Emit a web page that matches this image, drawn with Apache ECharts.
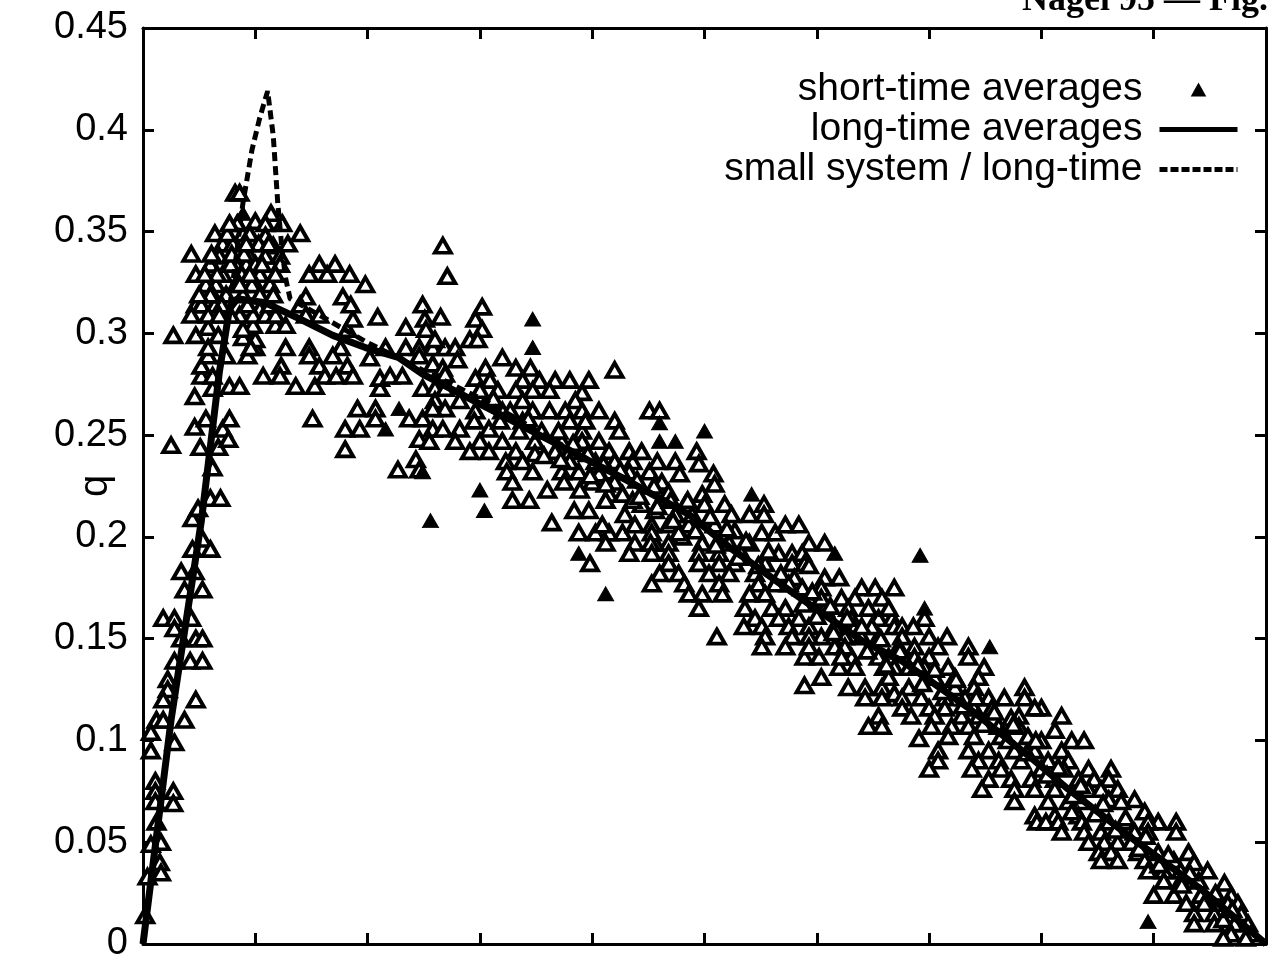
<!DOCTYPE html>
<html>
<head>
<meta charset="utf-8">
<script src="https://cdn.jsdelivr.net/npm/echarts@6/dist/echarts.min.js"></script>
<style>
html,body{margin:0;padding:0;background:#fff}
#chart{width:1268px;height:963px}
</style>
</head>
<body>
<div id="chart"></div>
<script>
// ---- axis ranges / ticks ----
const xRange = [0, 1];
const xStep = 0.1;
const yRange = [0, 0.45];
const yStep = 0.05;
const yAxisName = 'q';
const seriesNames = ['short-time averages', 'long-time averages', 'small system / long-time'];

// ---- short-time averages (density, flow) ----
const stFreeFlow = [
[0.053,0.199],[0.060,0.194],[0.044,0.194],[0.034,0.183],[0.046,0.183],[0.037,0.174],[0.053,0.174],[0.018,0.160],[0.028,0.160],[0.043,0.160],
[0.028,0.155],[0.034,0.150],[0.047,0.150],[0.053,0.150],[0.028,0.139],[0.042,0.139],[0.053,0.139],[0.022,0.130],[0.022,0.125],[0.018,0.120],
[0.047,0.120],[0.012,0.110],[0.018,0.110],[0.037,0.110],[0.007,0.104],[0.028,0.099],[0.007,0.095],[0.011,0.080],[0.011,0.075],[0.027,0.075],
[0.011,0.070],[0.027,0.069],[0.012,0.060],[0.016,0.050],[0.007,0.049],[0.015,0.040],[0.016,0.035],[0.004,0.033],[0.002,0.014],
[0.044,0.209],[0.049,0.214],[0.060,0.219],[0.069,0.219],[0.062,0.234],[0.025,0.245],[0.051,0.244],[0.067,0.244],[0.046,0.254],[0.071,0.253],
[0.076,0.248],[0.056,0.258],[0.077,0.258],[0.046,0.269],[0.062,0.273],[0.077,0.274],[0.086,0.274],[0.052,0.279],[0.062,0.279],[0.052,0.284],
[0.074,0.289],[0.058,0.289],[0.093,0.289],[0.058,0.293],[0.100,0.293],[0.027,0.299],[0.047,0.299],[0.058,0.303],[0.067,0.299],[0.089,0.298],
[0.100,0.297],[0.064,0.314],[0.047,0.314],[0.093,0.312],[0.104,0.312],[0.118,0.304],[0.127,0.304],[0.098,0.304],[0.089,0.302],[0.096,0.293]
];
const stPeak = [
[0.082,0.369],[0.086,0.369],[0.114,0.359],[0.100,0.355],[0.109,0.354],[0.124,0.354],[0.064,0.349],[0.089,0.349],[0.140,0.349],[0.129,0.344],
[0.043,0.339],[0.071,0.344],[0.080,0.344],[0.109,0.348],[0.116,0.343],[0.047,0.329],[0.060,0.334],[0.068,0.338],[0.095,0.338],[0.109,0.338],
[0.122,0.338],[0.122,0.334],[0.056,0.324],[0.071,0.329],[0.083,0.334],[0.092,0.334],[0.104,0.329],[0.113,0.324],[0.065,0.324],[0.052,0.314],
[0.062,0.319],[0.074,0.319],[0.089,0.319],[0.100,0.324],[0.043,0.309],[0.058,0.309],[0.086,0.309],[0.098,0.309],[0.109,0.309],[0.118,0.309],
[0.075,0.349],[0.095,0.349],[0.103,0.344],[0.090,0.339],[0.078,0.334],[0.066,0.329],[0.088,0.329],[0.097,0.324],[0.083,0.324],[0.070,0.314],
[0.078,0.309],[0.104,0.319],[0.113,0.314],[0.093,0.314],[0.060,0.319],[0.055,0.329],[0.118,0.329],[0.100,0.334],[0.112,0.344],[0.084,0.354],
[0.050,0.319],[0.068,0.309],[0.079,0.339],[0.106,0.334],[0.116,0.319],[0.061,0.339],[0.092,0.344],[0.077,0.354],[0.095,0.329],[0.086,0.324]
];
const stJamA = [
[0.123,0.284],[0.107,0.279],[0.122,0.279],[0.136,0.274],[0.153,0.274],[0.151,0.258],[0.127,0.293],[0.148,0.293],[0.148,0.289],[0.176,0.293],
[0.169,0.289],[0.157,0.284],[0.162,0.279],[0.172,0.279],[0.182,0.284],[0.187,0.279],[0.182,0.302],[0.187,0.307],[0.178,0.318],[0.185,0.314],
[0.209,0.308],[0.234,0.303],[0.198,0.324],[0.184,0.329],[0.164,0.329],[0.148,0.329],[0.157,0.334],[0.171,0.334],[0.145,0.318],[0.140,0.314],
[0.145,0.309],[0.157,0.309],[0.191,0.263],[0.207,0.263],[0.207,0.258],[0.180,0.253],[0.193,0.253],[0.180,0.243],[0.227,0.233],[0.243,0.238],
[0.246,0.233],[0.211,0.273],[0.211,0.278],[0.220,0.279],[0.231,0.279],[0.237,0.258],[0.249,0.258],[0.258,0.253],[0.246,0.248],[0.267,0.253],
[0.249,0.273],[0.260,0.273],[0.269,0.273],[0.260,0.267],[0.269,0.263],[0.258,0.263],[0.216,0.293],[0.234,0.293],[0.246,0.293],[0.258,0.293],
[0.269,0.293],[0.249,0.314],[0.251,0.307],[0.265,0.308],[0.252,0.302],[0.260,0.297],[0.246,0.289],[0.258,0.285],[0.267,0.283],[0.269,0.280],
[0.267,0.343],[0.271,0.328],[0.202,0.288]
];
const stJamB = [
[0.302,0.313],[0.296,0.307],[0.302,0.302],[0.291,0.297],[0.298,0.297],[0.278,0.293],[0.280,0.287],[0.320,0.288],[0.305,0.283],[0.332,0.283],
[0.345,0.283],[0.420,0.282],[0.296,0.278],[0.309,0.277],[0.338,0.277],[0.353,0.277],[0.367,0.277],[0.380,0.277],[0.397,0.277],[0.300,0.272],
[0.316,0.272],[0.332,0.272],[0.347,0.272],[0.362,0.272],[0.391,0.271],[0.385,0.267],[0.282,0.267],[0.338,0.267],[0.347,0.262],[0.362,0.262],
[0.376,0.262],[0.391,0.262],[0.406,0.262],[0.451,0.262],[0.460,0.262],[0.420,0.257],[0.296,0.262],[0.320,0.262],[0.282,0.253],[0.295,0.257],
[0.308,0.253],[0.338,0.257],[0.255,0.247],[0.278,0.247],[0.300,0.247],[0.320,0.247],[0.349,0.247],[0.373,0.247],[0.391,0.252],[0.406,0.247],
[0.424,0.252],[0.291,0.242],[0.308,0.242],[0.332,0.242],[0.349,0.241],[0.367,0.242],[0.380,0.242],[0.415,0.242],[0.433,0.242],[0.323,0.237],
[0.338,0.237],[0.420,0.237],[0.436,0.237],[0.324,0.232],[0.347,0.232],[0.373,0.232],[0.388,0.232],[0.415,0.232],[0.433,0.232],[0.451,0.232],
[0.329,0.227],[0.375,0.227],[0.400,0.227],[0.420,0.227],[0.462,0.227],[0.468,0.222],[0.329,0.218],[0.344,0.218],[0.360,0.223],[0.389,0.223],
[0.415,0.221],[0.427,0.221],[0.364,0.207],[0.384,0.213],[0.397,0.213],[0.429,0.211],[0.444,0.216],[0.456,0.213],[0.483,0.216],[0.498,0.221],
[0.518,0.216],[0.524,0.211],[0.388,0.202],[0.403,0.202],[0.415,0.202],[0.427,0.202],[0.438,0.206],[0.453,0.206],[0.468,0.206],[0.486,0.206],
[0.509,0.206],[0.438,0.197],[0.456,0.197],[0.480,0.200],[0.527,0.203],[0.458,0.237],[0.474,0.237],[0.478,0.231],[0.508,0.231],[0.509,0.226],
[0.493,0.242],[0.495,0.236],[0.412,0.197]
];
const stJamC = [
[0.380,0.257],[0.394,0.257],[0.391,0.247],[0.444,0.242],[0.380,0.237],[0.403,0.237],[0.406,0.231],[0.412,0.218],[0.436,0.218],[0.500,0.216],
[0.553,0.216],[0.409,0.206],[0.474,0.211],[0.489,0.211],[0.540,0.211],[0.553,0.211],[0.453,0.202],[0.477,0.202],[0.551,0.202],[0.563,0.202],
[0.572,0.206],[0.584,0.206],[0.452,0.197],[0.468,0.197],[0.498,0.197],[0.522,0.197],[0.540,0.197],[0.593,0.197],[0.607,0.197],[0.398,0.187],
[0.433,0.192],[0.453,0.192],[0.468,0.192],[0.495,0.192],[0.513,0.192],[0.533,0.192],[0.566,0.192],[0.578,0.192],[0.587,0.192],[0.468,0.187],
[0.495,0.187],[0.513,0.187],[0.527,0.187],[0.554,0.187],[0.578,0.187],[0.589,0.187],[0.460,0.182],[0.477,0.182],[0.504,0.182],[0.522,0.182],
[0.545,0.182],[0.566,0.180],[0.580,0.180],[0.607,0.180],[0.620,0.180],[0.453,0.177],[0.482,0.177],[0.513,0.177],[0.548,0.177],[0.563,0.177],
[0.587,0.175],[0.604,0.175],[0.640,0.175],[0.652,0.175],[0.669,0.175],[0.486,0.172],[0.498,0.172],[0.516,0.172],[0.540,0.172],[0.554,0.172],
[0.593,0.170],[0.622,0.170],[0.634,0.170],[0.658,0.170],[0.495,0.165],[0.536,0.165],[0.560,0.165],[0.572,0.165],[0.607,0.165],[0.628,0.165],
[0.646,0.165],[0.545,0.160],[0.566,0.160],[0.584,0.160],[0.631,0.160],[0.655,0.160],[0.667,0.160],[0.535,0.156],[0.551,0.156],[0.575,0.156],
[0.593,0.156],[0.634,0.156],[0.669,0.156],[0.511,0.151],[0.554,0.151],[0.578,0.151],[0.604,0.151],[0.625,0.151],[0.655,0.151],[0.551,0.146],
[0.572,0.146],[0.616,0.146],[0.589,0.141],[0.602,0.141],[0.631,0.141],[0.664,0.141],[0.620,0.136],[0.634,0.136],[0.669,0.136],[0.589,0.127],
[0.604,0.131],[0.628,0.126],[0.643,0.126],[0.658,0.126],[0.669,0.123]
];
const stJamD = [
[0.593,0.186],[0.604,0.170],[0.696,0.160],[0.664,0.165],[0.616,0.156],[0.649,0.156],[0.676,0.156],[0.686,0.156],[0.593,0.151],[0.640,0.151],
[0.676,0.151],[0.700,0.151],[0.716,0.151],[0.735,0.146],[0.735,0.141],[0.593,0.146],[0.625,0.146],[0.673,0.146],[0.687,0.146],[0.708,0.146],
[0.622,0.141],[0.655,0.141],[0.687,0.141],[0.700,0.141],[0.660,0.136],[0.682,0.136],[0.696,0.136],[0.717,0.136],[0.749,0.136],[0.664,0.131],
[0.705,0.131],[0.723,0.131],[0.744,0.131],[0.682,0.126],[0.723,0.126],[0.740,0.126],[0.785,0.126],[0.643,0.121],[0.658,0.121],[0.676,0.121],
[0.693,0.121],[0.714,0.121],[0.732,0.121],[0.753,0.121],[0.767,0.121],[0.785,0.121],[0.676,0.116],[0.700,0.116],[0.714,0.116],[0.740,0.116],
[0.756,0.116],[0.800,0.116],[0.655,0.112],[0.684,0.112],[0.705,0.112],[0.729,0.112],[0.744,0.112],[0.780,0.112],[0.818,0.112],[0.646,0.107],
[0.658,0.107],[0.702,0.107],[0.720,0.107],[0.735,0.107],[0.762,0.107],[0.780,0.107],[0.812,0.105],[0.691,0.101],[0.717,0.102],[0.740,0.102],
[0.764,0.102],[0.788,0.102],[0.800,0.100],[0.827,0.100],[0.838,0.100],[0.708,0.095],[0.735,0.095],[0.753,0.095],[0.776,0.095],[0.794,0.095],
[0.818,0.095],[0.708,0.090],[0.744,0.090],[0.762,0.090],[0.782,0.090],[0.806,0.090],[0.824,0.090],[0.700,0.086],[0.738,0.086],[0.764,0.086],
[0.800,0.086],[0.820,0.086],[0.842,0.086],[0.847,0.081],[0.753,0.081],[0.773,0.081],[0.791,0.081],[0.812,0.081],[0.833,0.081],[0.747,0.076],
[0.776,0.076],[0.794,0.076],[0.812,0.076],[0.842,0.076],[0.776,0.070],[0.806,0.070],[0.824,0.070],[0.836,0.070],[0.794,0.063],[0.812,0.063],
[0.833,0.063],[0.794,0.116],[0.773,0.111]
];
const stJamE = [
[0.862,0.086],[0.860,0.081],[0.868,0.076],[0.883,0.071],[0.853,0.076],[0.860,0.071],[0.871,0.070],[0.892,0.065],[0.904,0.060],[0.920,0.060],
[0.920,0.055],[0.796,0.060],[0.804,0.060],[0.815,0.060],[0.827,0.065],[0.836,0.060],[0.818,0.055],[0.838,0.055],[0.853,0.055],[0.860,0.060],
[0.874,0.060],[0.883,0.055],[0.895,0.060],[0.895,0.055],[0.842,0.050],[0.856,0.050],[0.868,0.050],[0.880,0.050],[0.851,0.045],[0.862,0.045],
[0.886,0.045],[0.904,0.045],[0.853,0.041],[0.868,0.041],[0.892,0.041],[0.918,0.041],[0.931,0.045],[0.936,0.040],[0.895,0.036],[0.909,0.036],
[0.924,0.036],[0.948,0.036],[0.909,0.031],[0.924,0.031],[0.940,0.031],[0.963,0.030],[0.900,0.024],[0.918,0.024],[0.942,0.024],[0.969,0.024],
[0.929,0.020],[0.948,0.020],[0.966,0.020],[0.975,0.020],[0.936,0.015],[0.954,0.015],[0.978,0.015],[0.936,0.010],[0.954,0.010],[0.972,0.010],
[0.984,0.010],[0.969,0.005],[0.987,0.005],[0.962,0.003],[0.982,0.003]
];
// marks packed tightly on both sides of the long-time curve
const stBand = [
[0.312,0.268],[0.318,0.257],[0.327,0.262],[0.335,0.252],[0.343,0.258],[0.355,0.252],[0.357,0.240],[0.370,0.252],[0.372,0.238],[0.383,0.246],
[0.396,0.241],[0.398,0.230],[0.410,0.236],[0.412,0.226],[0.425,0.233],[0.440,0.228],[0.442,0.220],[0.455,0.225],[0.458,0.215],[0.470,0.218],
[0.472,0.208],[0.485,0.218],[0.492,0.203],[0.505,0.210],[0.510,0.196],[0.520,0.204],[0.530,0.190],[0.537,0.198],[0.548,0.186],[0.557,0.193],
[0.568,0.182],[0.575,0.177],[0.588,0.167],[0.596,0.173],[0.600,0.161],[0.612,0.166],[0.615,0.153],[0.627,0.160],[0.640,0.156],[0.645,0.144],
[0.657,0.150],[0.662,0.137],[0.674,0.144],[0.690,0.137],[0.694,0.128],[0.705,0.135],[0.712,0.124],[0.724,0.130],[0.730,0.117],[0.742,0.121],
[0.748,0.108],[0.758,0.114],[0.770,0.100],[0.775,0.108],[0.787,0.094],[0.795,0.100],[0.805,0.083],[0.815,0.087],[0.828,0.073],[0.835,0.078],
[0.848,0.064],[0.855,0.069],[0.866,0.056],[0.875,0.062],[0.887,0.047],[0.893,0.053],[0.905,0.039],[0.913,0.044],[0.925,0.029],[0.932,0.035],
[0.945,0.020],[0.955,0.025],[0.962,0.012],[0.970,0.017]
];
// short-time points that print as solid black marks
const stSolid = [
[0.089,0.359],[0.347,0.307],[0.347,0.293],[0.249,0.232],[0.228,0.263],[0.216,0.253],[0.256,0.208],[0.300,0.223],[0.304,0.213],[0.460,0.256],
[0.460,0.247],[0.474,0.247],[0.500,0.252],[0.542,0.221],[0.616,0.192],[0.388,0.192],[0.412,0.172],[0.692,0.191],[0.696,0.165],[0.754,0.146],
[0.895,0.011]
];

// ---- long-time averages ----
const longTime = [
[0,0],[0.025,0.110],[0.052,0.208],[0.068,0.281],[0.077,0.312],[0.084,0.317],[0.109,0.315],[0.140,0.307],[0.169,0.299],[0.198,0.293],
[0.228,0.288],[0.249,0.280],[0.308,0.263],[0.367,0.246],[0.427,0.229],[0.486,0.211],[0.522,0.195],[0.580,0.172],[0.640,0.149],[0.676,0.139],
[0.735,0.116],[0.794,0.090],[0.824,0.076],[0.883,0.051],[0.942,0.027],[1.0,0]
];
// ---- small system / long-time ----
const smallSystem = [
[0,0],[0.025,0.110],[0.052,0.208],[0.068,0.281],[0.077,0.312],[0.089,0.364],[0.097,0.390],[0.104,0.406],[0.111,0.419],[0.116,0.397],
[0.120,0.364],[0.124,0.340],[0.127,0.327],[0.131,0.317],[0.157,0.309],[0.198,0.296],[0.249,0.282],[0.308,0.266],[0.367,0.247],[0.427,0.229],
[0.486,0.211],[0.522,0.195],[0.580,0.172],[0.640,0.149],[0.676,0.139],[0.735,0.116],[0.794,0.090],[0.824,0.076],[0.883,0.051],[0.942,0.027],[1.0,0]
];

const stHollow = [].concat(stFreeFlow, stPeak, stJamA, stJamB, stJamC, stJamD, stJamE, stBand);

const chart = echarts.init(document.getElementById('chart'), null, {renderer: 'canvas'});
const ink = '#000';
const sansFont = '"Liberation Sans", Arial, Helvetica, sans-serif';
const serifFont = '"Liberation Serif", "DejaVu Serif", serif';
const tickCommon = {show: true, inside: true, length: 11, lineStyle: {color: ink, width: 3}};
const lineCommon = {show: true, onZero: false, lineStyle: {color: ink, width: 3}};
const triPath = 'path://M5,0 L10,9 L0,9 Z';

const option = {
  animation: false,
  backgroundColor: '#fff',
  title: {
    text: '{n|Nagel 95 — }{f|Fig.}',
    left: 1022, top: -17, padding: 0,
    textStyle: {
      rich: {
        n: {fontFamily: serifFont, fontSize: 36, color: ink},
        f: {fontFamily: serifFont, fontSize: 36, fontWeight: 'bold', color: ink}
      }
    }
  },
  legend: {
    orient: 'vertical', align: 'right', right: 28, top: 70, padding: 0,
    itemWidth: 78, itemHeight: 14, itemGap: 1, symbolKeepAspect: true,
    textStyle: {fontSize: 39, fontFamily: sansFont, color: ink, padding: [0, 12, 0, 0]},
    data: [
      {name: seriesNames[0], icon: triPath, itemStyle: {color: ink, borderWidth: 0}},
      {name: seriesNames[1], itemStyle: {opacity: 0}, lineStyle: {width: 5, color: ink, type: 'solid'}},
      {name: seriesNames[2], itemStyle: {opacity: 0}, lineStyle: {width: 5, color: ink, type: [8, 3]}}
    ]
  },
  grid: {left: 143, right: 2, top: 28, bottom: 17, containLabel: false},
  xAxis: [
    {type: 'value', min: xRange[0], max: xRange[1], interval: xStep, position: 'bottom',
     axisLine: lineCommon, axisTick: tickCommon, axisLabel: {show: false}, splitLine: {show: false}},
    {type: 'value', min: xRange[0], max: xRange[1], interval: xStep, position: 'top',
     axisLine: lineCommon, axisTick: tickCommon, axisLabel: {show: false}, splitLine: {show: false}}
  ],
  yAxis: [
    {type: 'value', min: yRange[0], max: yRange[1], interval: yStep, position: 'left',
     name: yAxisName, nameLocation: 'middle', nameGap: 27, nameMoveOverlap: false,
     nameTextStyle: {fontSize: 40, fontFamily: sansFont, color: ink},
     axisLine: lineCommon, axisTick: tickCommon,
     axisLabel: {show: true, fontSize: 38, fontFamily: sansFont, color: ink, margin: 15},
     splitLine: {show: false}},
    {type: 'value', min: yRange[0], max: yRange[1], interval: yStep, position: 'right',
     axisLine: lineCommon, axisTick: tickCommon, axisLabel: {show: false}, splitLine: {show: false}}
  ],
  series: [
    {name: seriesNames[0], type: 'scatter', data: stHollow, symbol: 'triangle', symbolSize: [16, 14],
     itemStyle: {color: '#fff', borderColor: ink, borderWidth: 3.8, opacity: 1}, z: 2, silent: true},
    {name: seriesNames[0], type: 'scatter', data: stSolid, symbol: 'triangle', symbolSize: [16, 14],
     itemStyle: {color: ink, borderColor: ink, borderWidth: 1, opacity: 1}, z: 2, silent: true},
    {name: seriesNames[2], type: 'line', data: smallSystem, symbol: 'none', smooth: false,
     lineStyle: {color: ink, width: 5, type: [9, 5], cap: 'butt'}, z: 3, silent: true},
    {name: seriesNames[1], type: 'line', data: longTime, symbol: 'none', smooth: false,
     lineStyle: {color: ink, width: 7}, z: 4, silent: true}
  ]
};
chart.setOption(option);
</script>
</body>
</html>
